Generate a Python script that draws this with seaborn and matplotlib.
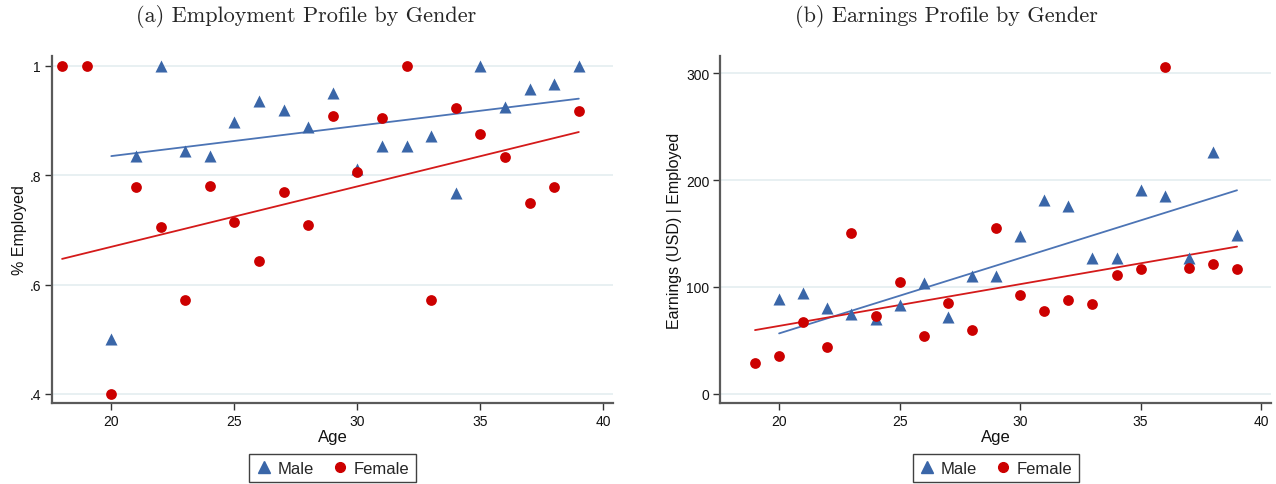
import numpy as np
import pandas as pd
import matplotlib
matplotlib.use("Agg")
import matplotlib.pyplot as plt
import seaborn as sns
from matplotlib.lines import Line2D

# ---------------- data ----------------
emp_male_age = list(range(20, 40))
emp_male = [0.50, 0.835, 1.0, 0.845, 0.835, 0.898, 0.936, 0.919, 0.888, 0.950,
            0.811, 0.853, 0.854, 0.872, 0.767, 1.0, 0.925, 0.958, 0.966, 1.0]
emp_female_age = list(range(18, 40))
emp_female = [1.0, 1.0, 0.40, 0.778, 0.706, 0.571, 0.781, 0.714, 0.643, 0.769,
              0.709, 0.909, 0.806, 0.905, 1.0, 0.571, 0.923, 0.875, 0.834, 0.750,
              0.778, 0.917]

earn_male_age = list(range(20, 40))
earn_male = [89, 94, 80, 75, 70, 83, 104, 72, 110, 110,
             148, 181, 176, 127, 127, 191, 185, 127, 226, 149]
earn_female_age = list(range(19, 40))
earn_female = [29, 35, 67, 44, 150, 73, 105, 54, 85, 60,
               155, 92, 77, 88, 84, 111, 117, 306, 118, 121, 117]

# fitted (linear fit) lines at their end ages
emp_male_fit_age = [20, 39]
emp_male_fit = [0.835, 0.940]
emp_female_fit_age = [18, 39]
emp_female_fit = [0.647, 0.879]
earn_male_fit_age = [20, 39]
earn_male_fit = [56.5, 190.4]
earn_female_fit_age = [19, 39]
earn_female_fit = [59.6, 137.7]

emp_yticks = [0.4, 0.6, 0.8, 1.0]
emp_yticklabels = [".4", ".6", ".8", "1"]
earn_yticks = [0, 100, 200, 300]
earn_yticklabels = ["0", "100", "200", "300"]
xticks = [20, 25, 30, 35, 40]

titles = ["(a) Employment Profile by Gender", "(b) Earnings Profile by Gender"]
ylabels = ["% Employed", "Earnings (USD) | Employed"]
xlabel = "Age"
legend_labels = ["Male", "Female"]

BLUE = "#3A66A8"
RED = "#CC0000"
LBLUE = "#4C74B5"
LRED = "#D41A1A"

sns.set_style("white")
plt.rcParams["font.family"] = ["Liberation Sans", "DejaVu Sans"]

fig = plt.figure(figsize=(12.76, 4.85), dpi=100)
W, H = 1276, 485

def px_axes(l, r, t, b):
    return [l / W, (H - b) / H, (r - l) / W, (b - t) / H]

ax_a = fig.add_axes(px_axes(52, 613, 57, 404))
ax_b = fig.add_axes(px_axes(720.3, 1271, 57, 404))

def draw(ax, mx, my, fx, fy, mfx, mfy, ffx, ffy, yticks, yticklabels, ylim,
         xlim, ylabel, ylsize, ylpad):
    dm = pd.DataFrame({"age": mx, "val": my})
    df = pd.DataFrame({"age": fx, "val": fy})
    sns.lineplot(x=mfx, y=mfy, color=LBLUE, lw=1.3, ax=ax, zorder=2)
    sns.lineplot(x=ffx, y=ffy, color=LRED, lw=1.3, ax=ax, zorder=2)
    sns.scatterplot(data=dm, x="age", y="val", marker="^", s=75, color=BLUE,
                    edgecolor=BLUE, linewidth=0, ax=ax, zorder=3)
    sns.scatterplot(data=df, x="age", y="val", marker="o", s=60, color=RED,
                    edgecolor=RED, linewidth=0, ax=ax, zorder=4)
    ax.set_xlim(*xlim)
    ax.set_ylim(*ylim)
    ax.set_xticks(xticks)
    ax.set_xticklabels([str(t) for t in xticks])
    ax.set_yticks(yticks)
    ax.set_yticklabels(yticklabels)
    ax.grid(axis="y", color="#E6EFF1", lw=1.3, zorder=0)
    ax.grid(axis="x", visible=False)
    ax.set_axisbelow(True)
    for s in ["top", "right"]:
        ax.spines[s].set_visible(False)
    for s in ["left", "bottom"]:
        ax.spines[s].set_color("#5A5A5A")
        ax.spines[s].set_linewidth(1.6)
    ax.tick_params(axis="both", which="major", length=5, width=1.0,
                   color="#333333", labelsize=10, labelcolor="#111111",
                   direction="out", bottom=True, left=True, pad=3)
    ax.set_xlabel(xlabel, fontsize=12, labelpad=1, color="#111111")
    ax.set_ylabel(ylabel, fontsize=ylsize, labelpad=ylpad, color="#111111")
    handles = [Line2D([], [], marker="^", ls="none", color=BLUE, markersize=8),
               Line2D([], [], marker="o", ls="none", color=RED, markersize=7)]
    return handles

h = draw(ax_a, emp_male_age, emp_male, emp_female_age, emp_female,
         emp_male_fit_age, emp_male_fit, emp_female_fit_age, emp_female_fit,
         emp_yticks, emp_yticklabels, (0.3835, 1.018), (17.59, 40.39),
         ylabels[0], 11.5, 1.5)
draw(ax_b, earn_male_age, earn_male, earn_female_age, earn_female,
     earn_male_fit_age, earn_male_fit, earn_female_fit_age, earn_female_fit,
     earn_yticks, earn_yticklabels, (-8.6, 316), (17.56, 40.41),
     ylabels[1], 11.5, 3)

for ax in (ax_a, ax_b):
    leg = ax.legend(h, legend_labels, ncol=2, loc="center",
                    bbox_to_anchor=(0.5, -0.188), frameon=True, fancybox=False,
                    edgecolor="#111111", fontsize=12, handletextpad=0.3,
                    columnspacing=1.1, borderpad=0.38, handlelength=1.0,
                    borderaxespad=0)
    leg.get_frame().set_linewidth(1.0)

fig.text(306 / W, 1 - 17 / H, titles[0], ha="center", va="center",
         fontsize=16, family="cmr10")
fig.text(946 / W, 1 - 17 / H, titles[1], ha="center", va="center",
         fontsize=16, family="cmr10")

fig.savefig("out.png", dpi=100, facecolor="white")
